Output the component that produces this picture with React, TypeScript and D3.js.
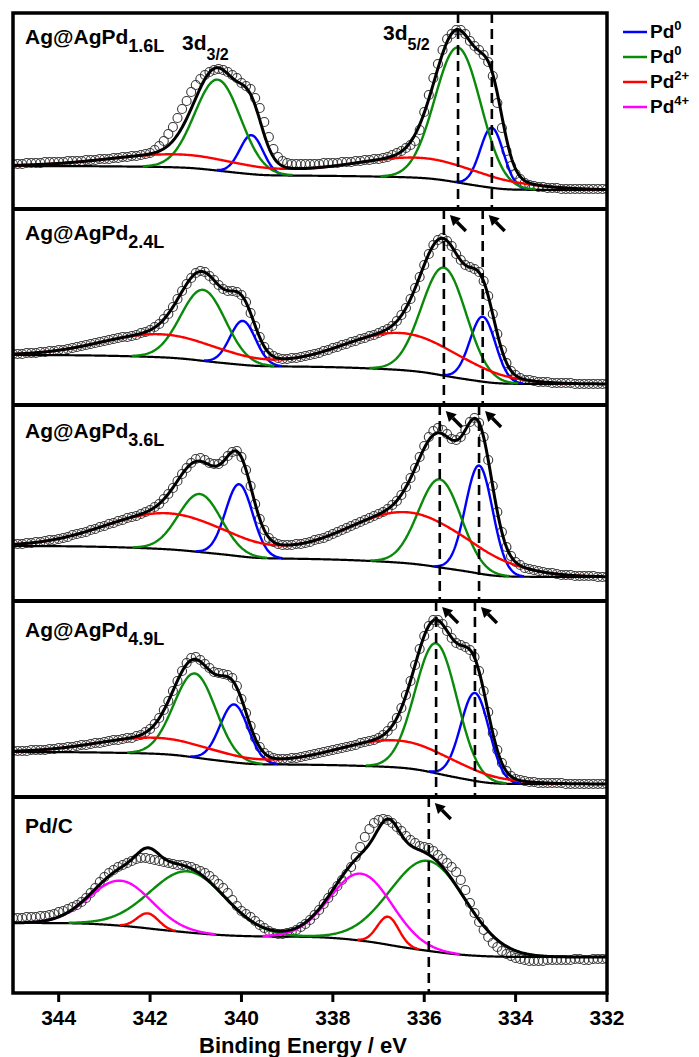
import React from "react";
import * as d3 from "d3";

// ---- layout ----
const W = 699;
const H = 1057;
const PLOT_LEFT = 13;
const PLOT_RIGHT = 607;
const PLOT_TOP = 13;
const PANEL_H = 196;
const N_PANELS = 5;
const PLOT_BOTTOM = PLOT_TOP + PANEL_H * N_PANELS;

// ---- axis ----
const X_DOMAIN: [number, number] = [345, 332];
const X_TICKS = [344, 342, 340, 338, 336, 334, 332];
const X_TITLE = "Binding Energy / eV";

// ---- panels ----
const PANEL_NAMES = ["Ag@AgPd", "Ag@AgPd", "Ag@AgPd", "Ag@AgPd", "Pd/C"];
const PANEL_SUBS = ["1.6L", "2.4L", "3.6L", "4.9L", ""];
const LABEL_OFFSETS = [31, 31, 33, 36, 36];

// measured spectra, 345.0 -> 332.0 eV in 0.1 eV steps (a.u.)
const E_START = 345;
const E_STEP = 0.1;
const SPEC_16L = [
  45, 45, 45, 46, 46, 46, 46, 47, 47, 47,
  47, 47, 48, 48, 48, 48, 49, 49, 49, 50,
  50, 50, 51, 51, 52, 52, 53, 53, 54, 55,
  56, 59, 63, 68, 75, 82, 91, 100, 108, 117,
  124, 130, 134, 137, 139, 140, 139, 137, 134, 131,
  126, 123, 120, 111, 101, 87, 72, 60, 52, 48,
  46, 45, 45, 45, 45, 45, 45, 45, 46, 46,
  46, 46, 47, 47, 47, 48, 48, 49, 49, 50,
  50, 51, 52, 54, 56, 58, 61, 64, 68, 79,
  97, 114, 131, 145, 159, 170, 175, 179, 179, 175,
  168, 163, 159, 154, 147, 133, 106, 81, 58, 43,
  35, 30, 26, 24, 23, 22, 22, 21, 21, 21,
  20, 20, 20, 20, 20, 20, 20, 20, 20, 20, 20,
];
const SPEC_24L = [
  51, 51, 51, 52, 52, 52, 53, 53, 54, 54,
  55, 55, 56, 57, 58, 59, 60, 61, 62, 63,
  64, 65, 66, 67, 68, 68, 69, 70, 72, 73,
  75, 78, 81, 86, 91, 98, 106, 114, 121, 127,
  132, 134, 133, 129, 125, 120, 116, 114, 114, 113,
  110, 103, 92, 79, 68, 58, 52, 49, 47, 46,
  46, 47, 47, 48, 49, 50, 51, 52, 54, 55,
  57, 58, 60, 61, 63, 64, 66, 67, 69, 70,
  72, 74, 76, 79, 84, 90, 97, 106, 117, 128,
  140, 151, 160, 165, 167, 164, 159, 151, 145, 140,
  138, 136, 133, 124, 109, 91, 71, 55, 42, 34,
  30, 27, 25, 25, 24, 23, 23, 23, 22, 22,
  22, 22, 22, 21, 21, 21, 21, 21, 21, 21, 21,
];
const SPEC_36L = [
  57, 57, 57, 58, 58, 59, 59, 60, 61, 61,
  62, 63, 64, 66, 67, 68, 69, 71, 72, 74,
  75, 77, 78, 80, 81, 83, 84, 85, 87, 89,
  91, 94, 97, 102, 107, 113, 120, 127, 133, 138,
  142, 143, 141, 138, 137, 137, 140, 145, 149, 150,
  144, 131, 115, 97, 82, 71, 63, 59, 57, 56,
  56, 56, 57, 57, 58, 59, 61, 62, 63, 65,
  67, 69, 71, 73, 75, 77, 79, 81, 83, 85,
  87, 89, 92, 96, 100, 106, 114, 123, 133, 144,
  155, 164, 170, 173, 171, 167, 162, 161, 164, 171,
  179, 183, 178, 164, 141, 115, 89, 69, 54, 45,
  39, 36, 33, 32, 31, 30, 29, 28, 28, 27,
  26, 26, 26, 25, 25, 25, 25, 25, 24, 24, 24,
];
const SPEC_49L = [
  46, 46, 46, 46, 47, 47, 47, 47, 48, 48,
  49, 49, 50, 50, 51, 52, 52, 53, 54, 54,
  55, 56, 57, 57, 58, 59, 59, 61, 62, 65,
  68, 73, 79, 87, 96, 106, 116, 126, 134, 139,
  140, 137, 133, 129, 125, 124, 123, 122, 119, 111,
  98, 84, 71, 59, 50, 44, 41, 39, 38, 38,
  38, 39, 39, 40, 41, 42, 43, 44, 45, 46,
  47, 48, 49, 50, 51, 52, 54, 55, 56, 57,
  59, 62, 66, 71, 79, 89, 102, 116, 132, 148,
  161, 171, 177, 177, 173, 166, 159, 154, 152, 150,
  147, 140, 126, 106, 85, 64, 47, 34, 26, 21,
  18, 17, 16, 15, 15, 14, 14, 14, 14, 14,
  14, 13, 13, 13, 13, 13, 13, 13, 13, 13, 13,
];
const SPEC_PDC = [
  75, 75, 75, 76, 76, 76, 77, 77, 78, 79,
  81, 82, 84, 86, 88, 91, 95, 100, 105, 111,
  116, 120, 123, 126, 128, 130, 132, 134, 135, 135,
  134, 133, 132, 131, 130, 129, 128, 128, 127, 126,
  124, 122, 120, 117, 113, 109, 105, 100, 93, 87,
  82, 79, 76, 72, 68, 65, 62, 60, 59, 59,
  60, 61, 63, 66, 69, 73, 78, 83, 89, 95,
  101, 107, 113, 119, 126, 136, 146, 156, 164, 170,
  173, 174, 173, 170, 166, 162, 157, 153, 150, 147,
  146, 145, 142, 138, 134, 130, 126, 121, 113, 103,
  90, 80, 71, 63, 56, 50, 46, 42, 39, 37,
  35, 34, 33, 32, 32, 32, 32, 33, 33, 33,
  33, 33, 33, 34, 34, 33, 33, 34, 34, 34, 34,
];
const SPECTRA = [SPEC_16L, SPEC_24L, SPEC_36L, SPEC_49L, SPEC_PDC];

// Shirley background end levels (a.u.): high-BE side, low-BE side
const BG_HIGH = [43, 50, 55, 45, 70];
const BG_LOW = [19, 21, 24, 13, 36];

// fitted doublets: [3d5/2 centre eV, 3d3/2 centre eV, 3d5/2 height, 3d3/2 height, FWHM eV]
const PD0_BLUE = [
  [334.52, 339.78, 60, 39, 0.6],
  [334.72, 339.97, 65, 44, 0.66],
  [334.8, 340.05, 108, 72, 0.7],
  [334.89, 340.16, 88, 58, 0.73],
  null,
];
const PD0_GREEN = [
  [335.26, 340.52, 135, 91, 1.18],
  [335.57, 340.84, 108, 71, 1.15],
  [335.66, 340.91, 88, 58, 1.1],
  [335.74, 341.02, 130, 84, 1.08],
  [335.92, 341.17, 90, 61, 1.95],
];
const PD2_RED = [
  [336.1, 341.36, 20, 13, 3.5],
  [336.5, 341.76, 37, 23, 3.0],
  [336.35, 341.6, 51, 36, 3.2],
  [336.6, 341.86, 27, 16, 3.0],
  [336.79, 342.05, 28, 15, 0.55],
];
const PD4_MAGENTA = [null, null, null, null, [337.38, 342.64, 67, 45, 1.6]];

// reference lines at the Pd0 3d5/2 positions
const MARKERS = [
  [335.26, 334.52],
  [335.57, 334.72],
  [335.66, 334.8],
  [335.74, 334.89],
  [335.9],
];
const MARKER_ARROWS = [false, true, true, true, true];

const LEGEND_LABELS = ["0", "0", "2+", "4+"];
const COLORS = { blue: "#0000ff", green: "#0a8a0a", red: "#ff0000", magenta: "#ff00ff" };
const LEGEND_COLORS = [COLORS.blue, COLORS.green, COLORS.red, COLORS.magenta];

const FONT = "'Liberation Sans', Arial, Helvetica, sans-serif";

type Doublet = number[] | null;

function gauss(e: number, c: number, h: number, fwhm: number) {
  const s = fwhm / 2.3548;
  const z = (e - c) / s;
  return h * Math.exp(-0.5 * z * z);
}

function doublet(e: number, p: Doublet) {
  if (!p) return 0;
  return gauss(e, p[0], p[2], p[4]) + gauss(e, p[1], p[3], p[4]);
}

// evaluation grid for the fitted curves
const GRID = d3.range(0, 651).map((i) => 345 - i * 0.02);

export default function App() {
  const x = d3.scaleLinear().domain(X_DOMAIN).range([PLOT_LEFT, PLOT_RIGHT]);

  const panels = d3.range(N_PANELS).map((i) => {
    const top = PLOT_TOP + i * PANEL_H;
    const bottom = top + PANEL_H;
    const y = d3.scaleLinear().domain([0, PANEL_H]).range([bottom, top]);
    const comps = [PD0_BLUE[i], PD0_GREEN[i], PD2_RED[i], PD4_MAGENTA[i]];
    const colors = [COLORS.blue, COLORS.green, COLORS.red, COLORS.magenta];
    // Shirley-type background: step proportional to peak area on the low-BE side
    const total = GRID.map((e) => comps.reduce((s, p) => s + doublet(e, p), 0));
    const cum: number[] = new Array(GRID.length).fill(0);
    for (let k = GRID.length - 2; k >= 0; k--) cum[k] = cum[k + 1] + total[k];
    const cumMax = cum[0];
    const bg = cum.map((c) => BG_LOW[i] + (BG_HIGH[i] - BG_LOW[i]) * (c / cumMax));

    const line = d3
      .line<number>()
      .x((_, k) => x(GRID[k]))
      .y((v) => y(v));
    const compPaths = comps
      .map((p, ci) => {
        if (!p) return null;
        const vals = GRID.map((e) => doublet(e, p));
        const d = d3
          .line<number>()
          .defined((v) => v > 0.4)
          .x((_, k) => x(GRID[k]))
          .y((v, k) => y(v + bg[k]))(vals) as string;
        return { color: colors[ci], d };
      })
      .filter(Boolean) as { color: string; d: string }[];
    const envelope = line(total.map((v, k) => v + bg[k])) as string;
    const bgPath = line(bg) as string;
    const points = SPECTRA[i].map((v, k) => ({ e: E_START - k * E_STEP, v }));
    return { i, top, bottom, y, compPaths, envelope, bgPath, points };
  });

  return (
    <svg
      width={W}
      height={H}
      viewBox={`0 0 ${W} ${H}`}
      style={{ position: "absolute", left: 0, top: 0, background: "#fff" }}
      fontFamily={FONT}
    >
      <defs>
        {panels.map((p) => (
          <clipPath id={`clip${p.i}`} key={p.i}>
            <rect x={PLOT_LEFT} y={p.top} width={PLOT_RIGHT - PLOT_LEFT} height={PANEL_H} />
          </clipPath>
        ))}
      </defs>

      {panels.map((p) => (
        <g key={p.i} clipPath={`url(#clip${p.i})`}>
          {p.points.map((d, k) => (
            <circle
              key={k}
              cx={x(d.e)}
              cy={p.y(d.v)}
              r={4.5}
              fill="none"
              stroke="#3a3a3a"
              strokeWidth={1.1}
            />
          ))}
          <path d={p.bgPath} fill="none" stroke="#000" strokeWidth={2.2} />
          {p.compPaths.map((c, k) => (
            <path key={k} d={c.d} fill="none" stroke={c.color} strokeWidth={2.4} />
          ))}
          <path d={p.envelope} fill="none" stroke="#000" strokeWidth={3} />
          {MARKERS[p.i].map((e, k) => (
            <line
              key={k}
              x1={x(e)}
              x2={x(e)}
              y1={p.top}
              y2={p.bottom}
              stroke="#000"
              strokeWidth={2.6}
              strokeDasharray="10,6"
            />
          ))}
        </g>
      ))}

      {/* arrows pointing at the reference lines */}
      {panels.map((p) =>
        MARKER_ARROWS[p.i]
          ? MARKERS[p.i].map((e, k) => {
              const tx = x(e) + 6;
              const ty = p.top + 6;
              const sx = tx + 16;
              const sy = ty + 16;
              const ux = -Math.SQRT1_2;
              const uy = -Math.SQRT1_2;
              const bx = tx - ux * 10;
              const by = ty - uy * 10;
              const nx = -uy * 5.5;
              const ny = ux * 5.5;
              return (
                <g key={`a${p.i}-${k}`}>
                  <line x1={sx} y1={sy} x2={bx} y2={by} stroke="#000" strokeWidth={3.4} />
                  <polygon points={`${tx},${ty} ${bx + nx},${by + ny} ${bx - nx},${by - ny}`} fill="#000" />
                </g>
              );
            })
          : null
      )}

      {/* frame and panel separators */}
      <rect
        x={PLOT_LEFT}
        y={PLOT_TOP}
        width={PLOT_RIGHT - PLOT_LEFT}
        height={PLOT_BOTTOM - PLOT_TOP}
        fill="none"
        stroke="#000"
        strokeWidth={3.5}
      />
      {d3.range(1, N_PANELS).map((k) => (
        <line
          key={k}
          x1={PLOT_LEFT}
          x2={PLOT_RIGHT}
          y1={PLOT_TOP + k * PANEL_H}
          y2={PLOT_TOP + k * PANEL_H}
          stroke="#000"
          strokeWidth={4}
        />
      ))}

      {/* bottom axis */}
      {X_TICKS.map((t) => (
        <g key={t}>
          <line x1={x(t)} x2={x(t)} y1={PLOT_BOTTOM} y2={PLOT_BOTTOM + 9} stroke="#000" strokeWidth={3} />
          <text x={x(t)} y={PLOT_BOTTOM + 32} textAnchor="middle" fontSize={21} fontWeight="bold">
            {t}
          </text>
        </g>
      ))}
      <text x={303} y={1053} textAnchor="middle" fontSize={22} fontWeight="bold">
        {X_TITLE}
      </text>

      {/* panel labels */}
      {panels.map((p) => (
        <text key={p.i} x={25} y={p.top + LABEL_OFFSETS[p.i]} fontSize={21} fontWeight="bold">
          {PANEL_NAMES[p.i]}
          {PANEL_SUBS[p.i] ? (
            <tspan fontSize={18} dy={8}>
              {PANEL_SUBS[p.i]}
            </tspan>
          ) : null}
        </text>
      ))}
      <text x={182} y={50} fontSize={21} fontWeight="bold">
        3d
        <tspan fontSize={16} dy={10}>
          3/2
        </tspan>
      </text>
      <text x={383} y={40} fontSize={21} fontWeight="bold">
        3d
        <tspan fontSize={16} dy={10}>
          5/2
        </tspan>
      </text>

      {/* legend */}
      {LEGEND_LABELS.map((lab, k) => {
        const ly = 32 + k * 25;
        return (
          <g key={k}>
            <line x1={623} x2={647} y1={ly} y2={ly} stroke={LEGEND_COLORS[k]} strokeWidth={2.5} />
            <text x={650} y={ly + 6} fontSize={19} fontWeight="bold">
              Pd
              <tspan fontSize={13} dy={-8}>
                {lab}
              </tspan>
            </text>
          </g>
        );
      })}
    </svg>
  );
}
